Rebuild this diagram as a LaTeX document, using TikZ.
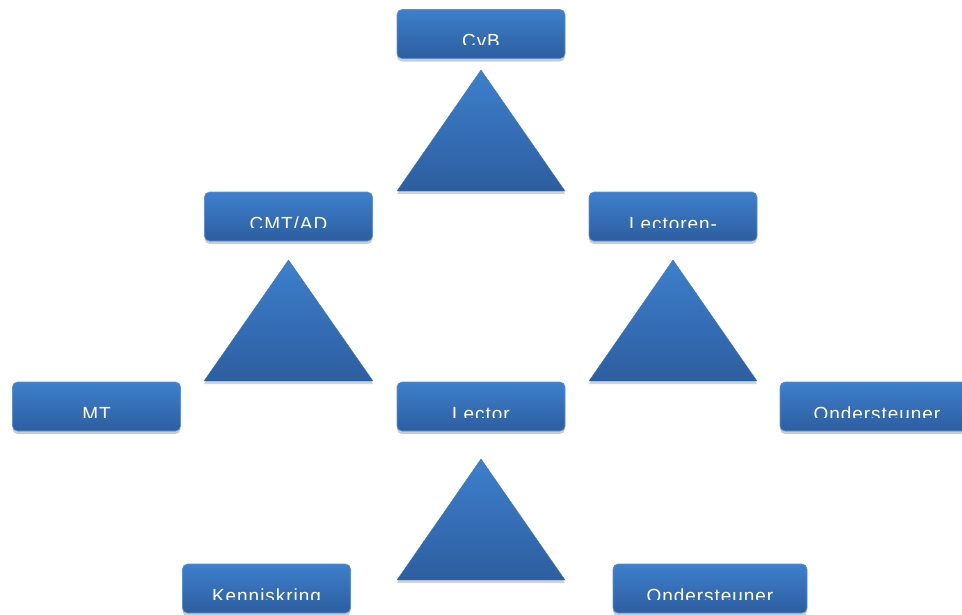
\documentclass[tikz,border=0pt]{standalone}
\usepackage{fontspec}
\newfontfamily\lblfont[LetterSpace=5]{Liberation Sans}
\usetikzlibrary{shadows}

\definecolor{blLight}{HTML}{3E7FCD}
\definecolor{blDark}{HTML}{2D5E9F}
\definecolor{blEdge}{HTML}{5A92D6}

\begin{document}
\begin{tikzpicture} [x = 1pt, y = -1pt,
  blok/.style = {rounded corners = 5pt, draw = blEdge, line width = .6pt,
    top color = blLight, bottom color = blDark, minimum height = 49pt,
    minimum width = 168pt, inner sep = 0pt,
    drop shadow = {shadow xshift = 0pt, shadow yshift = -3pt, opacity = .4},
    path picture = {\clip (path picture bounding box.north west) rectangle ([yshift = -35pt]path picture bounding box.north east);
      \node[anchor = base, text = white, font = \lblfont\fontsize{19}{19}\selectfont] at ([yshift = -38pt]path picture bounding box.north) {#1};}},
  tri/.style = {top color = blLight, bottom color = blDark, draw = blLight!80!blDark, line width = .4pt,
    drop shadow = {shadow xshift = 0pt, shadow yshift = -3pt, opacity = .35}}]
\useasboundingbox (0,0) rectangle (962,614);
% triangles
\path[tri] (481,70) -- (565,191) -- (397,191) -- cycle;
\path[tri] (288.5,260) -- (373,381) -- (204,381) -- cycle;
\path[tri] (673,260) -- (757,381) -- (589,381) -- cycle;
\path[tri] (481,459) -- (565,580) -- (397,580) -- cycle;
% boxes
\node[blok = CvB] (cvb) at (481,34) {};
\node[blok = CMT/AD] (cmt) at (288.5,216.5) {};
\node[blok = Lectoren-] (lpf) at (673,216.5) {};
\node[blok = MT] (mt) at (96.5,406.5) {};
\node[blok = Lector] (lec) at (481,406.5) {};
\node[blok = Ondersteuner, minimum width = 194pt] (ond) at (877,406.5) {};
\node[blok = Kenniskring] (kk) at (266.5,588.5) {};
\node[blok = Ondersteuner, minimum width = 194pt] (ond2) at (710,588.5) {};
\end{tikzpicture}
\end{document}
